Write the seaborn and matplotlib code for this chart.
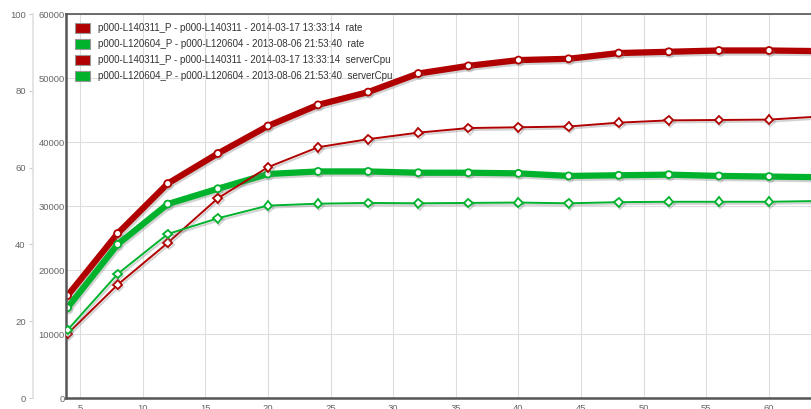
import matplotlib
matplotlib.use("Agg")
import matplotlib.pyplot as plt
import matplotlib.patheffects as pe
from matplotlib.patches import Patch
import seaborn as sns
import pandas as pd

# x positions (threads / load steps)
steps = [4, 8, 12, 16, 20, 24, 28, 32, 36, 40, 44, 48, 52, 56, 60, 64]

# rate series (right-hand main axis, 0-60000)
rate_l140311 = [16000, 25700, 33500, 38200, 42500, 45800, 47800, 50700,
                51900, 52800, 53000, 53900, 54100, 54300, 54300, 54200]
rate_l120604 = [14100, 24000, 30300, 32700, 35000, 35400, 35400, 35200,
                35200, 35100, 34700, 34800, 34900, 34700, 34600, 34500]

# serverCpu series (left axis, 0-100)
cpu_l140311 = [16.7, 29.5, 40.4, 52.0, 60.1, 65.3, 67.4, 69.1,
               70.3, 70.5, 70.7, 71.7, 72.3, 72.4, 72.5, 73.3]
cpu_l120604 = [17.7, 32.3, 42.7, 46.8, 50.1, 50.6, 50.8, 50.7,
               50.8, 50.9, 50.7, 51.0, 51.1, 51.1, 51.1, 51.3]

legend_labels = [
    "p000-L140311_P - p000-L140311 - 2014-03-17 13:33:14  rate",
    "p000-L120604_P - p000-L120604 - 2013-08-06 21:53:40  rate",
    "p000-L140311_P - p000-L140311 - 2014-03-17 13:33:14  serverCpu",
    "p000-L120604_P - p000-L120604 - 2013-08-06 21:53:40  serverCpu",
]

red = "#B00000"
green = "#00B22C"

sns.set_style("white")
plt.rcParams["font.family"] = ["Liberation Sans", "DejaVu Sans"]

fig = plt.figure(figsize=(8.11, 4.09), dpi=100)
ax = fig.add_axes([66 / 811, 11 / 409, 745 / 811, 384 / 409])
ax2 = ax.twinx()

shadow = [pe.SimpleLineShadow(offset=(1, -1.5), shadow_color="0.5", alpha=0.35), pe.Normal()]

df = pd.DataFrame({"step": steps, "r1": rate_l140311, "r2": rate_l120604,
                   "c1": cpu_l140311, "c2": cpu_l120604})

sns.lineplot(data=df, x="step", y="c1", ax=ax2, color=red, lw=1.4, marker="D",
             markersize=4.5, markerfacecolor="white", markeredgecolor=red, markeredgewidth=1.3)
sns.lineplot(data=df, x="step", y="c2", ax=ax2, color=green, lw=1.4, marker="D",
             markersize=4.5, markerfacecolor="white", markeredgecolor=green, markeredgewidth=1.3)
sns.lineplot(data=df, x="step", y="r1", ax=ax, color=red, lw=4.5, marker="o",
             markersize=5, markerfacecolor="white", markeredgecolor=red, markeredgewidth=1.3)
sns.lineplot(data=df, x="step", y="r2", ax=ax, color=green, lw=4.5, marker="o",
             markersize=5, markerfacecolor="white", markeredgecolor=green, markeredgewidth=1.3)
for a in (ax, ax2):
    for ln in a.get_lines():
        ln.set_path_effects(shadow)
        ln.set_clip_on(True)

# main axis
ax.set_xlim(3.88, 63.35)
ax.set_ylim(0, 60000)
ax.set_xticks([5, 10, 15, 20, 25, 30, 35, 40, 45, 50, 55, 60])
ax.set_yticks([0, 10000, 20000, 30000, 40000, 50000, 60000])
ax.grid(True, color="#dddddd", lw=0.8)
ax.set_xlabel("")
ax.set_ylabel("")
ax.tick_params(axis="both", length=0, labelsize=6.8, labelcolor="#666666", pad=1)
ax.tick_params(axis="x", pad=4)
for s in ("left", "bottom", "top"):
    ax.spines[s].set_visible(True)
    ax.spines[s].set_color("#555555")
ax.spines["left"].set_linewidth(1.8)
ax.spines["bottom"].set_linewidth(1.8)
ax.spines["top"].set_linewidth(1.2)
ax.spines["right"].set_visible(False)

# secondary (cpu) axis drawn on the far left
ax2.set_ylim(0, 100)
ax2.set_yticks([0, 20, 40, 60, 80, 100])
ax2.set_ylabel("")
ax2.yaxis.set_ticks_position("left")
ax2.yaxis.set_label_position("left")
ax2.spines["left"].set_visible(True)
ax2.spines["left"].set_position(("outward", 24))
ax2.spines["left"].set_color("#e0e0e0")
ax2.spines["left"].set_linewidth(1.2)
for s in ("right", "top", "bottom"):
    ax2.spines[s].set_visible(False)
ax2.tick_params(axis="y", length=3, width=0.8, color="#cccccc",
                labelsize=6.8, labelcolor="#666666", pad=2)

handles = [Patch(facecolor=c, edgecolor="#999999", lw=0.8) for c in (red, green, red, green)]
leg = ax2.legend(handles, legend_labels, loc="upper left", bbox_to_anchor=(0.0, 1.0),
                 fontsize=7, frameon=False, handlelength=1.6,
                 handleheight=1.3, labelspacing=0.55, borderpad=0.9, handletextpad=0.75,
                 borderaxespad=0)
for t in leg.get_texts():
    t.set_color("#333333")
leg.set_zorder(10)

fig.savefig("out.png", dpi=100)
